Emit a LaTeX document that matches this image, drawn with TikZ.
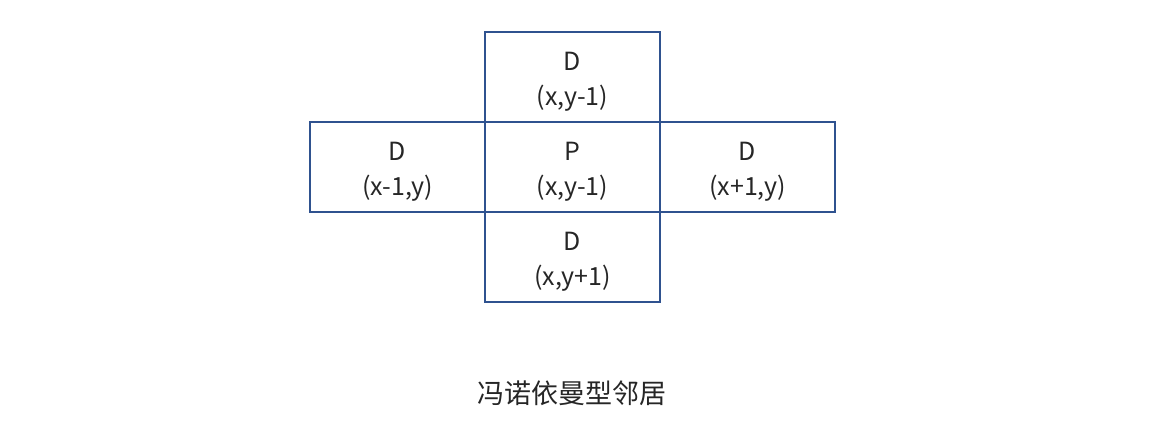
\documentclass[tikz,border=0pt]{standalone}
\usepackage{fontspec}
\setmainfont{Noto Sans CJK SC}
\definecolor{boxblue}{HTML}{2F528F}
\newcommand{\toprule}{\rule{0pt}{28pt}}
\begin{document}
\begin{tikzpicture}[x=1pt,y=-1pt,
  cellbox/.style={draw=boxblue,line width=1.6pt,minimum width=175pt,minimum height=90pt,inner sep=0pt,
    align=center,font=\fontsize{25}{35}\selectfont,text=black!85},
  captext/.style={font=\fontsize{27}{30}\selectfont,text=black!85}]
\useasboundingbox (0,0) rectangle (1160,423);
\node[cellbox] (c) at (572.5,167) {\toprule P\\(x,y-1)};
\node[cellbox] (t) at (572.5,77) {\toprule D\\(x,y-1)};
\node[cellbox] (l) at (397.5,167) {\toprule D\\(x-1,y)};
\node[cellbox] (r) at (747.5,167) {\toprule D\\(x+1,y)};
\node[cellbox] (b) at (572.5,257) {\toprule D\\(x,y+1)};
\node[captext] (caption) at (572,393) {冯诺依曼型邻居};
\end{tikzpicture}
\end{document}
